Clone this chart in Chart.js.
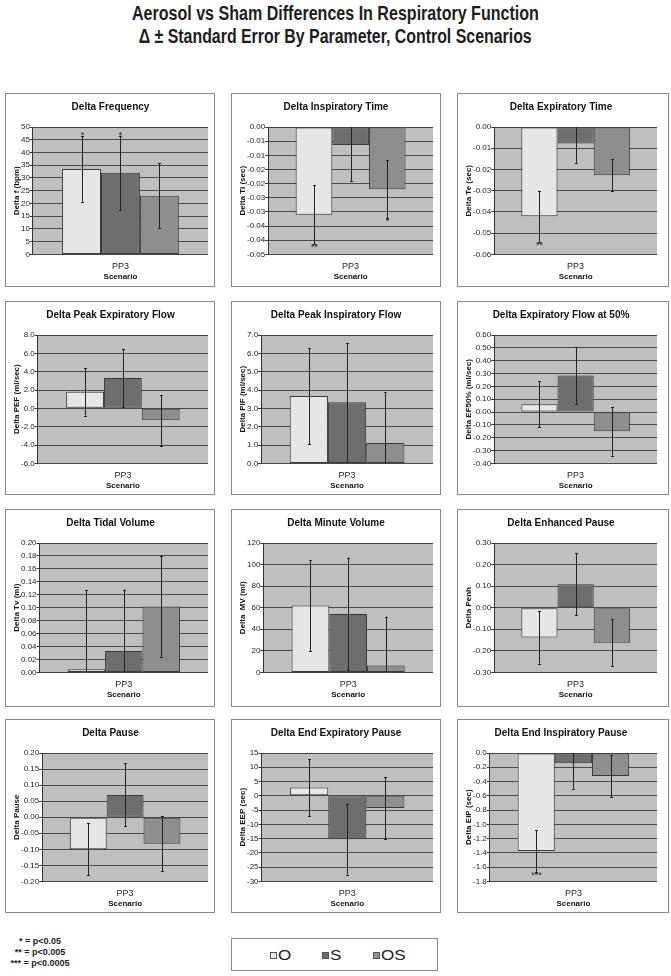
<!DOCTYPE html>
<html>
<head>
<meta charset="utf-8">
<script src="https://cdn.jsdelivr.net/npm/chart.js@4.4.1/dist/chart.umd.min.js"></script>
<style>
  html, body { margin: 0; padding: 0; background: #fff; }
  body { width: 671px; height: 976px; position: relative; overflow: hidden; font-family: "Liberation Sans", Arial, sans-serif; }
  #title { position: absolute; left: 0; top: 2px; width: 671px; text-align: center; font-family: "Liberation Sans Narrow", "Liberation Sans", Arial, sans-serif; font-weight: bold; font-size: 20px; line-height: 23px; color: #1e1e1e; }
  .tline { display: block; white-space: nowrap; }
  .tline span { display: inline-block; transform-origin: center center; }
  .panel { position: absolute; border: 1px solid #8a8a8a; box-sizing: border-box; background: #fff; }
  .panel canvas { position: absolute; left: 0; top: 0; }
  #legend { position: absolute; left: 231px; top: 938px; width: 207px; height: 33px; border: 1px solid #8a8a8a; box-sizing: border-box; background: #fff; }
  .sw { position: absolute; width: 7px; height: 7px; border: 1px solid #555; box-sizing: border-box; top: 13px; }
  .lt { position: absolute; top: 8px; font-size: 14px; line-height: 16px; color: #222; transform: scaleX(1.22); transform-origin: left center; }
  #notes { position: absolute; left: 0; top: 936px; width: 80px; text-align: center; font-weight: bold; font-size: 9px; line-height: 11px; color: #1e1e1e; }
</style>
</head>
<body>
<div id="title">
  <div class="tline"><span id="t1">Aerosol vs Sham Differences In Respiratory Function</span></div>
  <div class="tline"><span id="t2">Δ ± Standard Error By Parameter, Control Scenarios</span></div>
</div>
<div id="panels"></div>
<div id="notes">* = p&lt;0.05<br>** = p&lt;0.005<br>*** = p&lt;0.0005</div>
<div id="legend"></div>
<script>
// ---------------- DATA ----------------
const categories = ["PP3"];
const seriesNames = ["O", "S", "OS"];
const xAxisTitle = "Scenario";

const panelTitles = [
  "Delta Frequency", "Delta Inspiratory Time", "Delta Expiratory Time",
  "Delta Peak Expiratory Flow", "Delta Peak Inspiratory Flow", "Delta Expiratory Flow at 50%",
  "Delta Tidal Volume", "Delta Minute Volume", "Delta Enhanced Pause",
  "Delta Pause", "Delta End Expiratory Pause", "Delta End Inspiratory Pause"
];
const yAxisTitles = [
  "Delta f (bpm)", "Delta Ti (sec)", "Delta Te (sec)",
  "Delta PEF (ml/sec)", "Delta PIF (ml/sec)", "Delta EF50% (ml/sec)",
  "Delta Tv (ml)", "Delta  MV (ml)", "Delta Penh",
  "Delta Pause", "Delta EEP (sec)", "Delta EIP (sec)"
];

// values (O, S, OS), standard errors, significance marks, axis range [min,max,step], tick labels bottom->top
const freqValues = [33.5, 32.0, 23.0];
const freqErrors = [12.8, 14.6, 12.8];
const freqSig = ["*", "*", ""];
const freqRange = [0, 50, 5];
const freqTicks = ["0", "5", "10", "15", "20", "25", "30", "35", "40", "45", "50"];

const tiValues = [-0.031, -0.0064, -0.022];
const tiErrors = [0.0105, 0.0127, 0.0103];
const tiSig = ["**", "", "*"];
const tiRange = [-0.045, 0, 0.005];
const tiTicks = ["-0.05", "-0.04", "-0.04", "-0.03", "-0.03", "-0.02", "-0.02", "-0.01", "-0.01", "0.00"];

const teValues = [-0.042, -0.0078, -0.0227];
const teErrors = [0.012, 0.009, 0.0075];
const teSig = ["**", "", ""];
const teRange = [-0.06, 0, 0.01];
const teTicks = ["-0.06", "-0.05", "-0.04", "-0.03", "-0.02", "-0.01", "0.00"];

const pefValues = [1.8, 3.3, -1.3];
const pefErrors = [2.6, 3.2, 2.75];
const pefSig = ["", "", ""];
const pefRange = [-6, 8, 2];
const pefTicks = ["-6.0", "-4.0", "-2.0", "0.0", "2.0", "4.0", "6.0", "8.0"];

const pifValues = [3.67, 3.33, 1.11];
const pifErrors = [2.61, 3.23, 2.78];
const pifSig = ["", "", ""];
const pifRange = [0, 7, 1];
const pifTicks = ["0.0", "1.0", "2.0", "3.0", "4.0", "5.0", "6.0", "7.0"];

const ef50Values = [0.06, 0.285, -0.15];
const ef50Errors = [0.178, 0.22, 0.19];
const ef50Sig = ["", "", ""];
const ef50Range = [-0.4, 0.6, 0.1];
const ef50Ticks = ["-0.40", "-0.30", "-0.20", "-0.10", "0.00", "0.10", "0.20", "0.30", "0.40", "0.50", "0.60"];

const tvValues = [0.005, 0.033, 0.102];
const tvErrors = [0.122, 0.095, 0.078];
const tvSig = ["", "", ""];
const tvRange = [0, 0.2, 0.02];
const tvTicks = ["0.00", "0.02", "0.04", "0.06", "0.08", "0.10", "0.12", "0.14", "0.16", "0.18", "0.20"];

const mvValues = [62.0, 54.2, 6.3];
const mvErrors = [42.3, 52.2, 45.4];
const mvSig = ["", "", ""];
const mvRange = [0, 120, 20];
const mvTicks = ["0", "20", "40", "60", "80", "100", "120"];

const penhValues = [-0.138, 0.109, -0.162];
const penhErrors = [0.121, 0.143, 0.109];
const penhSig = ["", "", ""];
const penhRange = [-0.3, 0.3, 0.1];
const penhTicks = ["-0.30", "-0.20", "-0.10", "0.00", "0.10", "0.20", "0.30"];

const pauseValues = [-0.100, 0.0695, -0.083];
const pauseErrors = [0.081, 0.098, 0.086];
const pauseSig = ["", "", ""];
const pauseRange = [-0.2, 0.2, 0.05];
const pauseTicks = ["-0.20", "-0.15", "-0.10", "-0.05", "0.00", "0.05", "0.10", "0.15", "0.20"];

const eepValues = [2.9, -15.2, -4.3];
const eepErrors = [10.0, 12.4, 10.8];
const eepSig = ["", "", ""];
const eepRange = [-30, 15, 5];
const eepTicks = ["-30", "-25", "-20", "-15", "-10", "-5", "0", "5", "10", "15"];

const eipValues = [-1.374, -0.142, -0.322];
const eipErrors = [0.295, 0.356, 0.294];
const eipSig = ["***", "", ""];
const eipRange = [-1.8, 0, 0.2];
const eipTicks = ["-1.8", "-1.6", "-1.4", "-1.2", "-1.0", "-0.8", "-0.6", "-0.4", "-0.2", "0.0"];

// ---------------- STYLE ----------------
const seriesColors = ["#e6e6e6", "#6e6e6e", "#8e8e8e"];
const barBorder = "#3a3a3a";
const plotBg = "#bfbfbf";
const gridColor = "#4a4a4a";
const textColor = "#1e1e1e";
const FONT = '"Liberation Sans", Arial, sans-serif';

Chart.defaults.font.family = FONT;
Chart.defaults.color = textColor;

const panelData = [
  [freqValues, freqErrors, freqSig, freqRange, freqTicks],
  [tiValues, tiErrors, tiSig, tiRange, tiTicks],
  [teValues, teErrors, teSig, teRange, teTicks],
  [pefValues, pefErrors, pefSig, pefRange, pefTicks],
  [pifValues, pifErrors, pifSig, pifRange, pifTicks],
  [ef50Values, ef50Errors, ef50Sig, ef50Range, ef50Ticks],
  [tvValues, tvErrors, tvSig, tvRange, tvTicks],
  [mvValues, mvErrors, mvSig, mvRange, mvTicks],
  [penhValues, penhErrors, penhSig, penhRange, penhTicks],
  [pauseValues, pauseErrors, pauseSig, pauseRange, pauseTicks],
  [eepValues, eepErrors, eepSig, eepRange, eepTicks],
  [eipValues, eipErrors, eipSig, eipRange, eipTicks]
];

// layout of the grid of panels
const colX = [5, 231, 457];
const colW = [210, 210, 212];
const colPadRight = [6, 7, 11];
const rowY = [93, 301, 509, 719];
const rowH = [194, 194, 198, 194];
const rowPadBottom = [4, 3, 6, 3];

const bgPlugin = {
  id: 'plotBg',
  beforeDraw(chart) {
    const a = chart.chartArea, ctx = chart.ctx;
    ctx.save();
    ctx.fillStyle = plotBg;
    ctx.fillRect(a.left, a.top, a.right - a.left, a.bottom - a.top);
    ctx.restore();
  }
};

function makeErrorPlugin(values, errors, sig) {
  return {
    id: 'errorBars',
    afterDatasetsDraw(chart) {
      const ctx = chart.ctx, a = chart.chartArea, ys = chart.scales.y;
      ctx.save();
      ctx.strokeStyle = "#222";
      ctx.lineWidth = 1;
      values.forEach((v, i) => {
        const bar = chart.getDatasetMeta(i).data[0];
        if (!bar) return;
        const x = Math.round(bar.x) + 0.5;
        let yHi = ys.getPixelForValue(v + errors[i]);
        let yLo = ys.getPixelForValue(v - errors[i]);
        const hiClip = yHi < a.top, loClip = yLo > a.bottom;
        yHi = Math.max(yHi, a.top);
        yLo = Math.min(yLo, a.bottom);
        ctx.beginPath();
        ctx.moveTo(x, yHi); ctx.lineTo(x, yLo);
        if (!hiClip) { ctx.moveTo(x - 1.5, Math.round(yHi) + 0.5); ctx.lineTo(x + 1.5, Math.round(yHi) + 0.5); }
        if (!loClip) { ctx.moveTo(x - 1.5, Math.round(yLo) + 0.5); ctx.lineTo(x + 1.5, Math.round(yLo) + 0.5); }
        ctx.stroke();
        if (sig[i]) {
          ctx.fillStyle = "#222";
          ctx.font = '9px ' + FONT;
          ctx.textAlign = 'center';
          if (v >= 0) { ctx.textBaseline = 'alphabetic'; ctx.fillText(sig[i], x, yHi + 2); }
          else { ctx.textBaseline = 'top'; ctx.fillText(sig[i], x, yLo - 1); }
        }
      });
      ctx.restore();
    }
  };
}

const host = document.getElementById('panels');
panelData.forEach((pd, idx) => {
  const [values, errors, sig, range, tickLabels] = pd;
  const col = idx % 3, row = Math.floor(idx / 3);
  const div = document.createElement('div');
  div.className = 'panel';
  div.style.left = colX[col] + 'px';
  div.style.top = rowY[row] + 'px';
  div.style.width = colW[col] + 'px';
  div.style.height = rowH[row] + 'px';
  const cv = document.createElement('canvas');
  cv.width = colW[col] - 2; cv.height = rowH[row] - 2;
  cv.style.width = cv.width + 'px'; cv.style.height = cv.height + 'px';
  div.appendChild(cv);
  host.appendChild(div);

  const [yMin, yMax, yStep] = range;
  const n = Math.round((yMax - yMin) / yStep);
  const tickVals = [];
  for (let k = 0; k <= n; k++) tickVals.push(+(yMin + k * yStep).toFixed(6));

  new Chart(cv, {
    type: 'bar',
    data: {
      labels: categories,
      datasets: seriesNames.map((name, i) => ({
        label: name,
        data: [values[i]],
        backgroundColor: seriesColors[i],
        borderColor: barBorder,
        borderWidth: 1,
        borderSkipped: false,
        categoryPercentage: 0.667,
        barPercentage: 1.0
      }))
    },
    options: {
      responsive: false,
      animation: false,
      devicePixelRatio: 1,
      events: [],
      layout: { padding: { top: 0, right: colPadRight[col], bottom: rowPadBottom[row], left: 7 } },
      plugins: {
        legend: { display: false },
        tooltip: { enabled: false },
        title: {
          display: true, text: panelTitles[idx], color: "#111",
          font: { size: 10, weight: 'bold', family: FONT },
          padding: { top: 7, bottom: 14 }
        }
      },
      scales: {
        x: {
          grid: { display: false },
          border: { display: false },
          ticks: { color: textColor, font: { size: 9, lineHeight: 1.0 }, padding: 0 },
          title: { display: true, text: xAxisTitle, color: "#111", font: { size: 8, weight: 'bold' }, padding: { top: 1, bottom: 0 } }
        },
        y: {
          min: yMin, max: yMax,
          afterBuildTicks(axis) { axis.ticks = tickVals.map(v => ({ value: v })); },
          ticks: {
            autoSkip: false, color: textColor, font: { size: 8 }, padding: 0,
            callback: (v, i) => tickLabels[i]
          },
          grid: { color: gridColor, lineWidth: 1, drawTicks: true, tickLength: 3, tickColor: "#333" },
          border: { display: true, color: "#333", width: 1 },
          title: { display: true, text: yAxisTitles[idx], color: "#111", font: { size: 8, weight: 'bold', lineHeight: 1.0 }, padding: { top: 0, bottom: 0 } }
        }
      }
    },
    plugins: [bgPlugin, makeErrorPlugin(values, errors, sig)]
  });
});

// legend
const legend = document.getElementById('legend');
const swLeft = [38, 90, 141];
seriesNames.forEach((name, i) => {
  const s = document.createElement('div');
  s.className = 'sw'; s.style.left = swLeft[i] + 'px'; s.style.background = seriesColors[i];
  legend.appendChild(s);
  const t = document.createElement('div');
  t.className = 'lt'; t.style.left = (swLeft[i] + 8) + 'px'; t.textContent = name;
  legend.appendChild(t);
});

// fit title lines to reference widths
[["t1", 407], ["t2", 393]].forEach(([id, w]) => {
  const el = document.getElementById(id);
  const cw = el.getBoundingClientRect().width;
  if (cw > 0) el.style.transform = 'scaleX(' + (w / cw) + ')';
});
</script>
</body>
</html>
